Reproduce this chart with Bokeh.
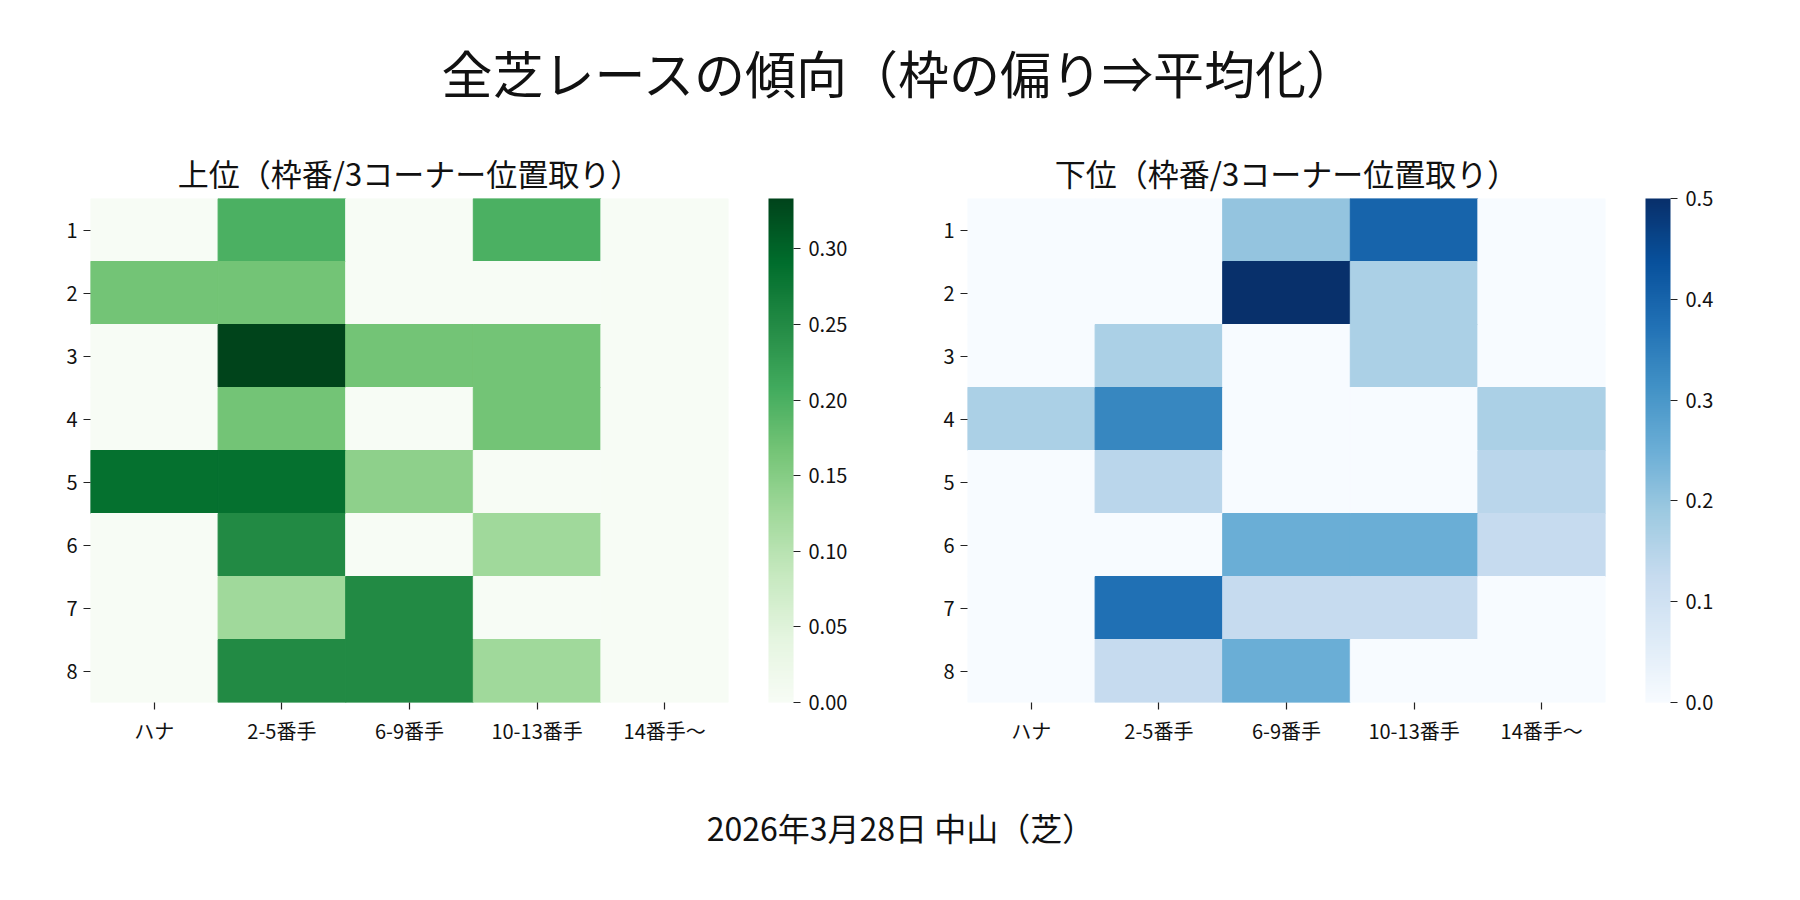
import numpy as np
from bokeh.plotting import figure
from bokeh.models import (FactorRange, LinearColorMapper, ColorBar, FixedTicker,
                          Label, ColumnDataSource, PrintfTickFormatter)
from bokeh.layouts import column, row
from bokeh.palettes import Greens9, Blues9
from bokeh.transform import transform
from bokeh.embed import file_html
from bokeh.resources import INLINE

FONT = "Noto Sans CJK JP"

# ---- data ----
main_title = "全芝レースの傾向（枠の偏り⇒平均化）"
sub_title_upper = "上位（枠番/3コーナー位置取り）"
sub_title_lower = "下位（枠番/3コーナー位置取り）"
footer = "2026年3月28日 中山（芝）"

positions = ["ハナ", "2-5番手", "6-9番手", "10-13番手", "14番手〜"]
gates = ["1", "2", "3", "4", "5", "6", "7", "8"]

upper = [
    [0.0,    0.2,    0.0,    0.2,    0.0],
    [0.1667, 0.1667, 0.0,    0.0,    0.0],
    [0.0,    0.3333, 0.1667, 0.1667, 0.0],
    [0.0,    0.1667, 0.0,    0.1667, 0.0],
    [0.2857, 0.2857, 0.1429, 0.0,    0.0],
    [0.0,    0.25,   0.0,    0.125,  0.0],
    [0.0,    0.125,  0.25,   0.0,    0.0],
    [0.0,    0.25,   0.25,   0.125,  0.0],
]
lower = [
    [0.0,    0.0,    0.2,    0.4,    0.0],
    [0.0,    0.0,    0.5,    0.1667, 0.0],
    [0.0,    0.1667, 0.0,    0.1667, 0.0],
    [0.1667, 0.3333, 0.0,    0.0,    0.1667],
    [0.0,    0.1429, 0.0,    0.0,    0.1429],
    [0.0,    0.0,    0.25,   0.25,   0.125],
    [0.0,    0.375,  0.125,  0.125,  0.0],
    [0.0,    0.125,  0.25,   0.0,    0.0],
]
upper_max = 0.3333
lower_max = 0.5
upper_ticks = [0.0, 0.05, 0.10, 0.15, 0.20, 0.25, 0.30]
lower_ticks = [0.0, 0.1, 0.2, 0.3, 0.4, 0.5]


def smooth_palette(base9, n=256):
    cols = list(reversed(base9))  # light -> dark
    rgb = np.array([[int(c[i:i + 2], 16) for i in (1, 3, 5)] for c in cols], float)
    t = np.linspace(0, 1, len(cols))
    tt = np.linspace(0, 1, n)
    out = []
    for k in tt:
        r, g, b = (np.interp(k, t, rgb[:, ch]) for ch in range(3))
        out.append("#%02x%02x%02x" % (int(round(r)), int(round(g)), int(round(b))))
    return out


def heat(values, title, palette, vmax, ticks, fmt, width, left, right):
    xs, ys, vs = [], [], []
    for i, g in enumerate(gates):
        for j, c in enumerate(positions):
            xs.append(c)
            ys.append(g)
            vs.append(values[i][j])
    src = ColumnDataSource(dict(x=xs, y=ys, v=vs))
    mapper = LinearColorMapper(palette=palette, low=0, high=vmax)
    p = figure(width=width, height=650,
               x_range=FactorRange(*positions),
               y_range=FactorRange(*reversed(gates)),
               output_backend="svg", toolbar_location=None,
               min_border_left=left, min_border_right=right,
               min_border_top=60, min_border_bottom=86)
    p.rect(x="x", y="y", width=1, height=1, source=src,
           fill_color=transform("v", mapper),
           line_color=transform("v", mapper), line_width=1)
    p.grid.grid_line_color = None
    p.outline_line_color = None
    for ax in (p.xaxis[0], p.yaxis[0]):
        ax.axis_line_color = None
        ax.major_tick_in = 0
        ax.major_tick_out = 7
        ax.major_tick_line_color = "#222222"
        ax.major_tick_line_width = 1.2
        ax.major_label_text_font = FONT
        ax.major_label_text_font_size = "20px"
        ax.major_label_text_color = "#111111"
        ax.major_label_standoff = 6
    p.title.text = title
    p.title.align = "center"
    p.title.text_font = FONT
    p.title.text_font_size = "31px"
    p.title.text_font_style = "normal"
    p.title.text_color = "#111111"
    p.title.standoff = 8
    cb = ColorBar(color_mapper=mapper, width=25, height=504,
                  location=(40, 0), padding=0, margin=0,
                  ticker=FixedTicker(ticks=ticks),
                  formatter=PrintfTickFormatter(format=fmt),
                  major_tick_in=0, major_tick_out=7,
                  major_tick_line_color="#222222", major_tick_line_width=1.2,
                  bar_line_color=None, border_line_color=None,
                  background_fill_alpha=0, label_standoff=8,
                  major_label_text_font=FONT,
                  major_label_text_font_size="20px",
                  major_label_text_color="#111111")
    p.add_layout(cb, "right")
    return p


def text_fig(text, height, ypos, size):
    f = figure(width=1784, height=height, x_range=(0, 1784), y_range=(0, 1),
               output_backend="svg", toolbar_location=None,
               min_border=0)
    f.axis.visible = False
    f.grid.grid_line_color = None
    f.outline_line_color = None
    f.add_layout(Label(x=900, y=ypos, text=text, text_align="center",
                       text_baseline="middle", text_font=FONT,
                       text_font_size=size, text_color="#111111"))
    return f


top = text_fig(main_title, 138, 1 - 71 / 138, "51px")
pa = heat(upper, sub_title_upper, smooth_palette(Greens9), upper_max,
          upper_ticks, "%.2f", 888, 90, 160)
pb = heat(lower, sub_title_lower, smooth_palette(Blues9), lower_max,
          lower_ticks, "%.1f", 896, 79, 179)
bottom = text_fig(footer, 96, 1 - 38 / 96, "32px")

layout = column(top, row(pa, pb), bottom)
open("out.html", "w").write(file_html(layout, INLINE))
